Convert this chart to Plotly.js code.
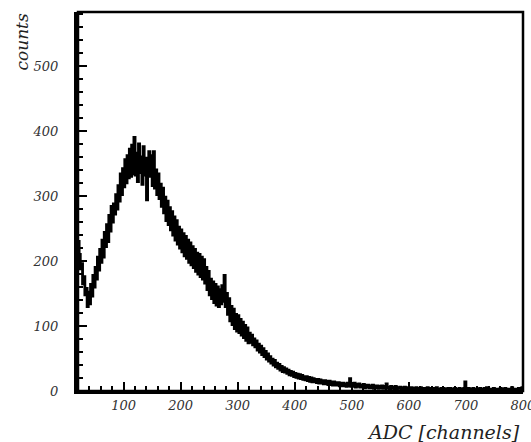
<!DOCTYPE html>
<html>
<head>
<meta charset="utf-8">
<script src="https://cdn.plot.ly/plotly-3.0.1.min.js"></script>
<style>html,body{margin:0;padding:0;background:#fff;}#chart{width:531px;height:442px;}</style>
</head>
<body>
<div id="chart"></div>
<script>
// Histogram: bins of width 2 channels starting at 20
const binStart = 20;
const binWidth = 2;
const counts = [
230,210,188,196,165,176,148,158,130,152,
134,164,146,178,160,190,172,206,186,218,
198,232,206,244,222,256,230,270,246,284,
260,288,272,302,280,316,292,334,302,342,
314,356,320,362,328,372,330,378,334,390,
332,366,322,380,336,360,318,376,332,358,
294,334,368,330,362,316,368,312,340,302,
334,296,318,284,312,274,298,262,292,256,
282,248,276,240,268,232,262,226,252,220,
248,214,242,208,238,204,232,198,228,194,
222,190,218,184,212,180,210,176,206,172,
202,166,190,156,184,148,172,142,168,136,
164,132,160,130,156,134,162,138,178,130,
150,118,142,108,130,102,126,96,118,92,
116,90,110,86,106,82,101,78,97,74,
89,75,86,71,80,68,77,63,72,60,
69,56,65,53,61,49,57,46,53,43,
49,40,47,37,43,35,41,32,38,30,
36,29,34,27,32,25,30,24,29,22,
27,21,26,20,25,19,24,18,22,17,
22,16,21,15,20,14,19,14,18,13,
18,12,17,12,16,11,16,11,15,10,
15,10,14,9,14,9,13,9,13,8,
12,8,12,8,11,7,12,8,19,7,
11,7,12,6,10,7,11,6,9,6,
10,5,9,6,9,5,8,5,9,4,
8,5,8,4,7,5,8,4,7,4,
11,4,6,3,7,4,6,3,7,3,
5,4,6,3,5,2,6,3,5,3,
5,2,5,3,4,2,5,3,4,2,
5,2,4,3,4,2,5,2,4,3,
4,2,4,2,5,2,3,2,4,3,
4,2,3,2,4,2,4,3,3,2,
4,2,3,2,4,2,3,2,4,14,
3,2,4,2,3,2,4,2,3,1,
3,2,4,2,3,1,4,2,5,2,
3,1,3,2,4,2,3,1,3,2,
4,1,3,2,4,1,3,2,3,1,
5,2,3,1,3,2,4,1,3,5
];
const xTickVals = [100,200,300,400,500,600,700,800];
const yTickVals = [0,100,200,300,400,500];

const edges = counts.map((c,i)=>binStart + i*binWidth);
edges.push(binStart + counts.length*binWidth);
const ys = counts.slice(); ys.push(counts[counts.length-1]);

const serif = 'DejaVu Serif';

const trace = {
  x: edges, y: ys, type: 'scatter', mode: 'lines',
  line: {shape: 'hv', color: '#000', width: 2.8},
  hoverinfo: 'skip', showlegend: false
};

const axisCommon = {
  showgrid: false, zeroline: false,
  showline: true, linecolor: '#000', linewidth: 3, mirror: false,
  ticks: 'inside', ticklen: 9, tickwidth: 2, tickcolor: '#000',
  tickfont: {family: serif, size: 13, color: '#333', style: 'italic'},
  tickmode: 'array', ticklabeloverflow: 'allow'
};

const layout = {
  width: 531, height: 442,
  font: {family: serif},
  margin: {l: 78, r: 8, t: 12, b: 51},
  paper_bgcolor: '#fff', plot_bgcolor: '#fff',
  xaxis: Object.assign({}, axisCommon, {
    range: [20, 800.05], tickvals: xTickVals, ticktext: xTickVals.map(String),
    ticklabelstandoff: 0,
    minor: {dtick: 20, tick0: 0, ticks: 'inside', ticklen: 5, tickwidth: 2, tickcolor: '#000', showgrid: false}
  }),
  yaxis: Object.assign({}, axisCommon, {
    linewidth: 4,
    range: [0, 583], tickvals: yTickVals, ticktext: yTickVals.map(String),
    ticklabelstandoff: 13,
    minor: {dtick: 20, tick0: 0, ticks: 'inside', ticklen: 5, tickwidth: 2, tickcolor: '#000', showgrid: false}
  }),
  shapes: [{
    type: 'rect', xref: 'paper', yref: 'paper', x0: 0, x1: 1, y0: 0, y1: 1,
    line: {color: '#000', width: 2.5}, fillcolor: 'rgba(0,0,0,0)'
  }],
  annotations: [
    {text: 'ADC [channels]', xref: 'paper', yref: 'paper', x: 0.998, y: -0.108,
     xanchor: 'right', yanchor: 'middle', showarrow: false,
     font: {family: serif, size: 19, color: '#222', style: 'italic'}},
    {text: 'counts', xref: 'paper', yref: 'paper', x: -0.128, y: 1.0,
     xanchor: 'center', yanchor: 'top', textangle: -90, showarrow: false,
     font: {family: serif, size: 17, color: '#222', style: 'italic'}}
  ]
};

Plotly.newPlot('chart', [trace], layout, {displayModeBar: false, staticPlot: true});
</script>
</body>
</html>
